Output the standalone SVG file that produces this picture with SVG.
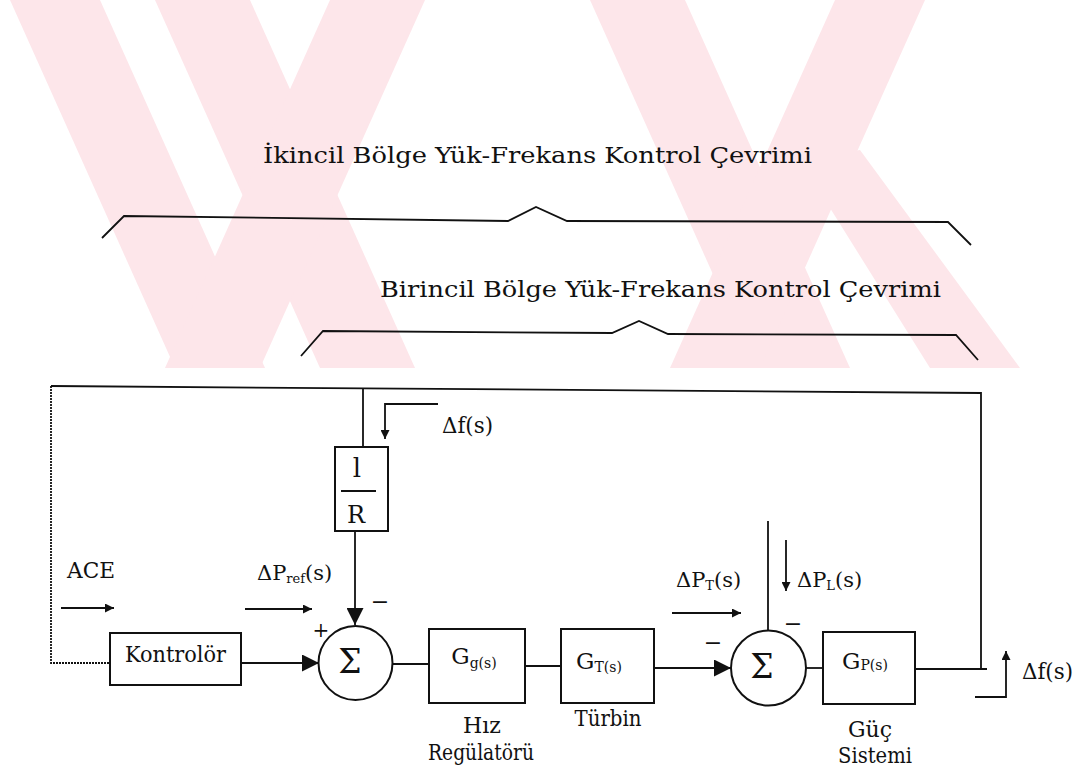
<svg xmlns="http://www.w3.org/2000/svg" width="1078" height="770" viewBox="0 0 1078 770">
<defs>
<style>
.ln{fill:none;stroke:#111;stroke-width:1.8}
.bx{fill:#fff;stroke:#111;stroke-width:2}
.t{font-family:"DejaVu Serif","Liberation Serif",serif;fill:#111}
.wm{fill:#fde6ea}
</style>
<marker id="ah" viewBox="0 0 10 10" refX="10" refY="5" markerWidth="12" markerHeight="9" markerUnits="userSpaceOnUse" orient="auto"><path d="M0,0 L10,5 L0,10 z" fill="#111"/></marker>
<marker id="ahb" viewBox="0 0 10 10" refX="10" refY="5" markerWidth="19" markerHeight="17" markerUnits="userSpaceOnUse" orient="auto"><path d="M0,0 L10,5 L0,10 z" fill="#111"/></marker>
</defs>
<rect width="1078" height="770" fill="#fff"/>
<g id="watermark">
<polygon class="wm" points="10,0 100,0 265,368 175,368"/>
<polygon class="wm" points="155,0 250,0 415,368 320,368"/>
<polygon class="wm" points="330,0 425,0 260,368 165,368"/>
<polygon class="wm" points="590,0 685,0 850,368 755,368"/>
<polygon class="wm" points="835,0 925,0 760,368 670,368"/>
<polygon class="wm" points="800,160 860,150 1020,368 930,368"/>
</g>
<g id="titles">
<text class="t" x="263" y="163" font-size="23" textLength="549" lengthAdjust="spacingAndGlyphs">İkincil Bölge Yük-Frekans Kontrol Çevrimi</text>
<polyline class="ln" points="102,238 124,216 508,221 536,207 567,221 948,222 971,245"/>
<text class="t" x="380" y="297" font-size="23" textLength="561" lengthAdjust="spacingAndGlyphs">Birincil Bölge Yük-Frekans Kontrol Çevrimi</text>
<polyline class="ln" points="301,356 323,331 612,333 639,321 668,334 956,335 978,360"/>
</g>
<g id="connectors">
<polyline class="ln" points="981,669 981,393 51,386" />
<polyline class="ln" stroke-dasharray="2 1" points="51,386 51,663 110,663"/>
<line class="ln" x1="363" y1="389" x2="363" y2="447"/>
<polyline class="ln" points="438,404 385,404 385,439" marker-end="url(#ah)"/>
<line class="ln" x1="355" y1="531" x2="355" y2="625" marker-end="url(#ahb)"/>
<line class="ln" x1="241" y1="663" x2="319" y2="663" marker-end="url(#ahb)"/>
<line class="ln" x1="61" y1="608" x2="114" y2="608" stroke-width="2.2" marker-end="url(#ah)"/>
<line class="ln" x1="245" y1="609" x2="312" y2="609" stroke-width="2.2" marker-end="url(#ah)"/>
<line class="ln" x1="392" y1="664" x2="429" y2="664"/>
<line class="ln" x1="525" y1="666" x2="561" y2="666"/>
<line class="ln" x1="654" y1="668" x2="731" y2="668" marker-end="url(#ahb)"/>
<line class="ln" x1="672" y1="613" x2="741" y2="613" stroke-width="2.2" marker-end="url(#ah)"/>
<line class="ln" x1="768" y1="521" x2="768" y2="630"/>
<line class="ln" x1="786" y1="540" x2="786" y2="591" marker-end="url(#ah)"/>
<line class="ln" x1="806" y1="668" x2="823" y2="668"/>
<line class="ln" x1="915" y1="669" x2="987" y2="669"/>
<polyline class="ln" points="975,697 1006,697 1006,651" marker-end="url(#ah)"/>
</g>
<g id="kontrolor">
<rect class="bx" x="110" y="633" width="131" height="52"/>
<text class="t" x="125" y="662" font-size="23" textLength="101" lengthAdjust="spacingAndGlyphs">Kontrolör</text>
</g>
<g id="sum1">
<circle class="bx" cx="355.5" cy="663" r="37"/>
<text class="t" x="350" y="673" font-size="33" text-anchor="middle">Σ</text>
<text class="t" x="321" y="637" font-size="20" text-anchor="middle">+</text>
<text class="t" x="380" y="609" font-size="22" text-anchor="middle">−</text>
</g>
<g id="inv-r">
<rect class="bx" x="335" y="447" width="53" height="84"/>
<text class="t" x="357" y="477" font-size="26" text-anchor="middle">l</text>
<line class="ln" x1="341" y1="491" x2="376" y2="491"/>
<text class="t" x="356" y="523" font-size="24" text-anchor="middle">R</text>
</g>
<g id="gg">
<rect class="bx" x="429" y="629" width="96" height="74"/>
<text class="t" x="474" y="664" font-size="23" text-anchor="middle">G<tspan font-size="14" dy="4">g(s)</tspan></text>
<text class="t" x="482" y="733" font-size="22" text-anchor="middle">Hız</text>
<text class="t" x="481" y="760" font-size="22" text-anchor="middle" textLength="106" lengthAdjust="spacingAndGlyphs">Regülatörü</text>
</g>
<g id="gt">
<rect class="bx" x="561" y="629" width="93" height="74"/>
<text class="t" x="599" y="669" font-size="23" text-anchor="middle">G<tspan font-size="14" dy="3">T(s)</tspan></text>
<text class="t" x="608" y="726" font-size="22" text-anchor="middle" textLength="67" lengthAdjust="spacingAndGlyphs">Türbin</text>
</g>
<g id="sum2">
<circle class="bx" cx="768.5" cy="668" r="37.5"/>
<text class="t" x="762" y="678" font-size="33" text-anchor="middle">Σ</text>
<text class="t" x="713" y="650" font-size="22" text-anchor="middle">−</text>
<text class="t" x="793" y="631" font-size="22" text-anchor="middle">−</text>
</g>
<g id="gp">
<rect class="bx" x="823" y="632" width="92" height="72"/>
<text class="t" x="865" y="669" font-size="23" text-anchor="middle">G<tspan font-size="14" dy="1">P(s)</tspan></text>
<text class="t" x="870" y="737" font-size="22" text-anchor="middle">Güç</text>
<text class="t" x="875" y="763" font-size="22" text-anchor="middle" textLength="74" lengthAdjust="spacingAndGlyphs">Sistemi</text>
</g>
<g id="labels">
<text class="t" x="67" y="578" font-size="22" textLength="48" lengthAdjust="spacingAndGlyphs">ACE</text>
<text class="t" x="257" y="580" font-size="21">ΔP<tspan font-size="13" dy="3">ref</tspan><tspan dy="-3">(s)</tspan></text>
<text class="t" x="442" y="433" font-size="22" textLength="51" lengthAdjust="spacingAndGlyphs">Δf(s)</text>
<text class="t" x="676" y="587" font-size="21">ΔP<tspan font-size="13" dy="3">T</tspan><tspan dy="-3">(s)</tspan></text>
<text class="t" x="797" y="587" font-size="21">ΔP<tspan font-size="13" dy="3">L</tspan><tspan dy="-3">(s)</tspan></text>
<text class="t" x="1022" y="679" font-size="22" textLength="51" lengthAdjust="spacingAndGlyphs">Δf(s)</text>
</g>
</svg>
